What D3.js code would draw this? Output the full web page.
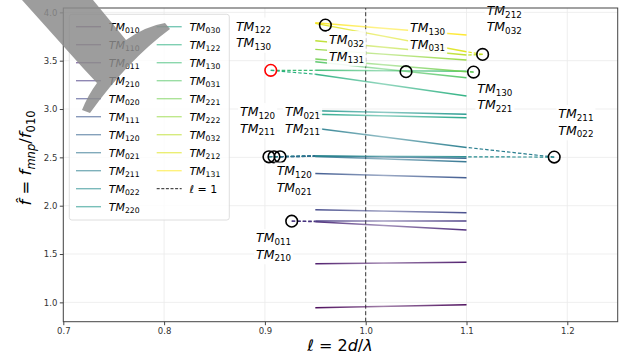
<!DOCTYPE html>
<html>
<head>
<meta charset="utf-8">
<script src="https://cdn.jsdelivr.net/npm/d3@7"></script>
<style>
  body { margin: 0; background: #fff; }
  svg { display: block; font-family: "DejaVu Sans", sans-serif; }
</style>
</head>
<body>
<div id="chart"></div>
<script>
// modes, in legend order
const modes = ['010', '110', '011', '210', '020', '111', '120', '021', '211', '022',
               '220', '030', '122', '130', '031', '221', '222', '032', '212', '131'];
const ellSpan = [0.95, 1.1];
const fStart = [0.944, 1.400, 1.834, 1.841, 1.958, 2.334, 2.515, 2.510, 2.800, 2.515,
                2.982, 2.945, 3.360, 3.400, 3.489, 3.517, 3.617, 3.706, 3.886, 3.893];
const fEnd   = [0.975, 1.414, 1.748, 1.841, 1.927, 2.289, 2.490, 2.455, 2.603, 2.505,
                2.945, 2.910, 3.134, 3.390, 3.323, 3.386, 3.507, 3.558, 3.593, 3.765];

// degeneracy points (circles)
const crossEll = [0.9266, 0.904, 0.909, 0.915, 1.187, 0.9058, 0.960, 1.040, 1.107, 1.116];
const crossF   = [1.840, 2.506, 2.506, 2.506, 2.503, 3.400, 3.868, 3.386, 3.382, 3.565];
const crossRed = [false, false, false, false, false, true, false, false, false, false];
// dashed links: [circle, mode, which end]
const links = [[0, '011', 0], [0, '210', 0],
               [1, '120', 0], [1, '022', 0], [2, '021', 0], [2, '022', 0], [3, '120', 0], [3, '021', 0],
               [4, '211', 1], [4, '022', 1],
               [5, '130', 0], [5, '122', 0],
               [8, '130', 1], [8, '221', 1],
               [9, '212', 1], [9, '032', 1]];

// annotation labels
const noteText = [['122', '130'], ['032', '131'], ['130', '031'], ['212', '032'], ['130', '221'],
                  ['120', '211'], ['021', '211'], ['211', '022'], ['120', '021'], ['011', '210']];
const noteEll = [0.8713, 0.9636, 1.0440, 1.1200, 1.1107, 0.8753, 0.9200, 1.1911, 0.9117, 0.8912];
const noteF   = [3.812, 3.672, 3.796, 3.975, 3.168, 2.927, 2.927, 2.906, 2.313, 1.624];

const xTicks = [0.7, 0.8, 0.9, 1.0, 1.1, 1.2];
const yTicks = [1.0, 1.5, 2.0, 2.5, 3.0, 3.5, 4.0];

const W = 637, H = 358;
const x = d3.scaleLinear().domain([0.7, 1.25]).range([63.3, 617.7]);
const y = d3.scaleLinear().domain([0.8, 4.045]).range([321.7, 8]);
const color = i => d3.interpolateViridis(i / (modes.length - 1));

const svg = d3.select('#chart').append('svg')
  .attr('width', W)
  .attr('height', H);

// grid
svg.append('g').selectAll('line').data(xTicks).enter().append('line')
  .attr('x1', d => x(d)).attr('x2', d => x(d))
  .attr('y1', y.range()[0]).attr('y2', y.range()[1])
  .attr('stroke', '#ebebeb').attr('stroke-width', 0.8);
svg.append('g').selectAll('line').data(yTicks).enter().append('line')
  .attr('y1', d => y(d)).attr('y2', d => y(d))
  .attr('x1', x.range()[0]).attr('x2', x.range()[1])
  .attr('stroke', '#ebebeb').attr('stroke-width', 0.8);

// l = 1
svg.append('line')
  .attr('x1', x(1)).attr('x2', x(1))
  .attr('y1', y.range()[0]).attr('y2', y.range()[1])
  .attr('stroke', '#333').attr('stroke-width', 1)
  .attr('stroke-dasharray', '4,2.5');

// gradients for mode lines
const defs = svg.append('defs');
modes.forEach((m, i) => {
  const g = defs.append('linearGradient')
    .attr('id', 'g' + m)
    .attr('gradientUnits', 'userSpaceOnUse')
    .attr('x1', x(ellSpan[0])).attr('x2', x(ellSpan[1]))
    .attr('y1', 0).attr('y2', 0);
  [[0, 0.95], [0.45, 0.5], [1, 0.95]].forEach(s => {
    g.append('stop').attr('offset', s[0])
      .attr('stop-color', color(i)).attr('stop-opacity', s[1]);
  });
});

// dashed links
svg.append('g').selectAll('line').data(links).enter().append('line')
  .attr('x1', d => x(crossEll[d[0]]))
  .attr('y1', d => y(crossF[d[0]]))
  .attr('x2', d => x(ellSpan[d[2]]))
  .attr('y2', d => {
    const i = modes.indexOf(d[1]);
    return y(d[2] === 0 ? fStart[i] : fEnd[i]);
  })
  .attr('stroke', d => color(modes.indexOf(d[1])))
  .attr('stroke-width', 1.2)
  .attr('stroke-dasharray', '3.5,2');

// mode lines
svg.append('g').selectAll('line').data(modes).enter().append('line')
  .attr('x1', x(ellSpan[0])).attr('x2', x(ellSpan[1]))
  .attr('y1', (d, i) => y(fStart[i]))
  .attr('y2', (d, i) => y(fEnd[i]))
  .attr('stroke', d => 'url(#g' + d + ')')
  .attr('stroke-width', 1.5);

// circles
svg.append('g').selectAll('circle').data(crossEll).enter().append('circle')
  .attr('cx', d => x(d))
  .attr('cy', (d, i) => y(crossF[i]))
  .attr('r', 5.8)
  .attr('fill', 'none')
  .attr('stroke', (d, i) => crossRed[i] ? 'red' : 'black')
  .attr('stroke-width', 1.6);

function tm(text, code, size) {
  text.append('tspan').attr('font-style', 'italic').text('TM');
  text.append('tspan').attr('font-size', size * 0.7).attr('dy', size * 0.22).text(code);
}

// annotations
const notes = svg.append('g');
noteText.forEach((pair, k) => {
  const gx = x(noteEll[k]), gy = y(noteF[k]);
  const bg = notes.append('rect').attr('fill', 'white').attr('opacity', 0.9);
  const grp = notes.append('g');
  pair.forEach((code, j) => {
    const t = grp.append('text')
      .attr('x', gx).attr('y', gy + j * 16.5)
      .attr('font-size', 12.5).attr('fill', '#000');
    tm(t, code, 12.5);
  });
  const bb = grp.node().getBBox();
  bg.attr('x', bb.x - 2).attr('y', bb.y - 1).attr('width', bb.width + 4).attr('height', bb.height + 2);
});

// frame
svg.append('rect')
  .attr('x', x.range()[0]).attr('y', y.range()[1])
  .attr('width', x.range()[1] - x.range()[0])
  .attr('height', y.range()[0] - y.range()[1])
  .attr('fill', 'none').attr('stroke', '#444').attr('stroke-width', 1);

// axes
const xAxis = svg.append('g')
  .attr('transform', 'translate(0,' + y.range()[0] + ')')
  .call(d3.axisBottom(x).tickValues(xTicks).tickFormat(d3.format('.1f')).tickSize(3.5).tickPadding(2.5));
const yAxis = svg.append('g')
  .attr('transform', 'translate(' + x.range()[0] + ',0)')
  .call(d3.axisLeft(y).tickValues(yTicks).tickFormat(d3.format('.1f')).tickSize(3.5).tickPadding(2.5));
[xAxis, yAxis].forEach(a => {
  a.select('.domain').remove();
  a.selectAll('line').attr('stroke', '#444');
  a.selectAll('text').attr('font-size', 8.5).attr('fill', '#333')
    .attr('font-family', '"DejaVu Sans", sans-serif');
});

// axis labels
const xl = svg.append('text')
  .attr('x', 340).attr('y', 351)
  .attr('text-anchor', 'middle')
  .attr('font-size', 16);
xl.append('tspan').attr('font-style', 'italic').text('ℓ');
xl.append('tspan').text(' = 2');
xl.append('tspan').attr('font-style', 'italic').text('d');
xl.append('tspan').text('/');
xl.append('tspan').attr('font-style', 'italic').text('λ');

const yl = svg.append('text')
  .attr('transform', 'translate(31,158) rotate(-90)')
  .attr('text-anchor', 'middle')
  .attr('font-size', 16.5);
yl.append('tspan').attr('font-style', 'italic').text('f\u0302');
yl.append('tspan').text(' = ');
yl.append('tspan').attr('font-style', 'italic').text('f');
yl.append('tspan').attr('font-style', 'italic').attr('font-size', 11.5).attr('dy', 3.5).text('mnp');
yl.append('tspan').attr('dy', -3.5).text('/');
yl.append('tspan').attr('font-style', 'italic').text('f');
yl.append('tspan').attr('font-size', 11.5).attr('dy', 3.5).text('010');

// legend
const leg = svg.append('g');
leg.append('rect')
  .attr('x', 69.3).attr('y', 14.3)
  .attr('width', 160).attr('height', 205.7)
  .attr('rx', 2.5)
  .attr('fill', 'white').attr('fill-opacity', 0.8)
  .attr('stroke', '#d6d6d6').attr('stroke-width', 0.8);
const legItems = modes.map((m, i) => ({ code: m, i: i })).concat([{ code: null, i: -1 }]);
legItems.forEach((d, k) => {
  const col = k < 11 ? 0 : 1;
  const row = k < 11 ? k : k - 11;
  const lx = col === 0 ? 76 : 156.7;
  const ly = 26.7 + row * 18;
  leg.append('line')
    .attr('x1', lx).attr('x2', lx + 25)
    .attr('y1', ly).attr('y2', ly)
    .attr('stroke', d.code ? color(d.i) : '#222')
    .attr('stroke-opacity', d.code ? 0.6 : 1)
    .attr('stroke-width', d.code ? 1.4 : 1)
    .attr('stroke-dasharray', d.code ? null : '3,1.6');
  const t = leg.append('text')
    .attr('x', lx + 32.7).attr('y', ly + 4)
    .attr('font-size', 11);
  if (d.code) {
    tm(t, d.code, 11);
  } else {
    t.append('tspan').attr('font-style', 'italic').text('ℓ');
    t.append('tspan').text(' = 1');
  }
});

// gray mark over the top-left corner
svg.append('path')
  .attr('d', 'M22,0 L93,0 L126,40 Q146,26 165,23 L170,29 Q128,60 90,113 L82,110 Q88,95 97,83 L83,68 Z')
  .attr('fill', '#8c8c8c')
  .attr('fill-opacity', 0.85);
</script>
</body>
</html>
